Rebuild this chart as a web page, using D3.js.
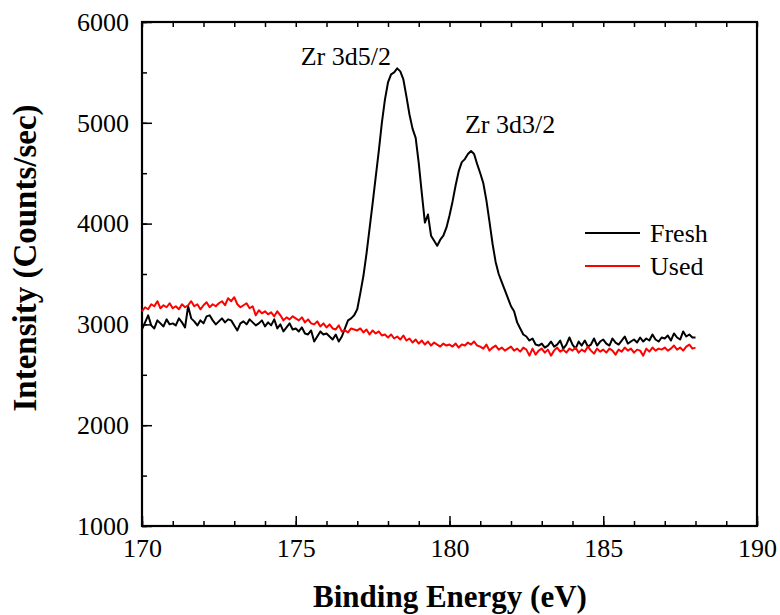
<!DOCTYPE html>
<html>
<head>
<meta charset="utf-8">
<script src="https://cdn.jsdelivr.net/npm/d3@7"></script>
<style>
  body { margin: 0; background: white; }
</style>
</head>
<body>
<div id="chart"></div>
<script>
// binding energy grid, 170.0 .. 188.0 in 0.1 eV steps
var energyStart = 170.0
var energyStep = 0.1

var fresh = [
  2950, 3020, 3090, 2990, 2960, 3040, 3010, 2980, 3050, 3000,
  3010, 2990, 3060, 3020, 2970, 3180, 3060, 3030, 2990, 3040,
  3010, 3080, 3090, 3040, 3000, 3030, 3060, 3020, 3050, 3040,
  2990, 2940, 3010, 3030, 3000, 3050, 3020, 2990, 3010, 3040,
  2980, 3020, 2990, 3050, 2960, 3000, 2930, 2970, 3010, 2950,
  2960, 2930, 2970, 2910, 2900, 2940, 2830, 2880, 2930, 2900,
  2910, 2880, 2850, 2900, 2830, 2880, 2960, 3040, 3060, 3090,
  3150, 3310, 3480, 3700, 3950, 4200, 4460, 4720, 5000, 5230,
  5400, 5480, 5500, 5540, 5510, 5430, 5260, 5080, 4940, 4850,
  4600, 4300, 4010, 4090, 3880, 3830, 3780, 3840, 3880, 3960,
  4080, 4220, 4380, 4520, 4610, 4640, 4690, 4720, 4690, 4590,
  4500, 4400, 4230, 4020, 3800, 3620, 3500, 3420, 3340, 3260,
  3180, 3130, 3020, 2960, 2900, 2880, 2840, 2860, 2800, 2790,
  2810, 2770, 2790, 2830, 2780, 2800, 2840, 2760, 2800, 2870,
  2800, 2760, 2830, 2790, 2840, 2780, 2800, 2860, 2790, 2830,
  2850, 2810, 2790, 2860, 2820, 2800, 2840, 2880, 2810, 2830,
  2850, 2820, 2870, 2830, 2860, 2840, 2900, 2850, 2830, 2870,
  2860, 2890, 2840, 2910, 2870, 2850, 2930, 2880, 2900, 2870,
  2870
]

var used = [
  3130, 3170, 3150, 3200, 3180, 3230, 3160, 3190, 3170, 3210,
  3160, 3180, 3150, 3200, 3170, 3190, 3230, 3180, 3200, 3150,
  3190, 3220, 3170, 3200, 3180, 3210, 3230, 3190, 3260, 3230,
  3270, 3200, 3170, 3190, 3210, 3160, 3180, 3090, 3140, 3110,
  3130, 3100, 3120, 3080, 3130, 3090, 3040, 3070, 3050, 3080,
  3060, 3040, 3070, 3020, 3050, 3010, 3000, 3030, 2980, 3010,
  2970, 3000, 2960, 2950, 2990, 2930, 2940, 2920, 2960, 2950,
  2940, 2960, 2920, 2950, 2900, 2940, 2910, 2930, 2890, 2900,
  2870, 2900, 2860, 2880, 2850, 2890, 2840, 2860, 2820, 2850,
  2810, 2840, 2800, 2830, 2790, 2820, 2800, 2780, 2810, 2790,
  2800, 2780, 2810, 2770, 2800, 2790, 2820, 2800, 2830, 2790,
  2780, 2760, 2800, 2740, 2770, 2790, 2750, 2770, 2740, 2760,
  2780, 2740, 2760, 2730, 2770, 2750, 2690, 2760, 2700, 2740,
  2760, 2720, 2750, 2690, 2740, 2770, 2730, 2750, 2720, 2760,
  2740, 2770, 2720, 2750, 2730, 2780, 2740, 2710, 2760, 2730,
  2750, 2720, 2760, 2740, 2700, 2750, 2730, 2770, 2740, 2760,
  2720, 2750, 2740, 2690, 2760, 2730, 2770, 2740, 2760, 2750,
  2770, 2740, 2760, 2790, 2750, 2770, 2740, 2780, 2800, 2760,
  2770
]

var xTicks = [170, 175, 180, 185, 190]
var yTicks = [1000, 2000, 3000, 4000, 5000, 6000]
var seriesNames = ["Fresh", "Used"]
var seriesColors = ["#000000", "#ff0000"]
var peakLabels = [
  { text: "Zr 3d5/2", e: 176.63, v: 5570 },
  { text: "Zr 3d3/2", e: 181.97, v: 4900 }
]

var FONT = "Liberation Serif"

var W = 780, H = 615
var margin = { left: 142, top: 22, right: 23, bottom: 89 }
var w = W - margin.left - margin.right
var h = H - margin.top - margin.bottom

var svg = d3.select("#chart").append("svg")
    .attr("width", W)
    .attr("height", H)
    .style("background-color", "white")

var g = svg.append("g").attr("transform", "translate(" + margin.left + "," + margin.top + ")")

var x = d3.scaleLinear().domain([170, 190]).range([0, w])
var y = d3.scaleLinear().domain([1000, 6000]).range([h, 0])

// minor ticks first, then major with labels
var xMinor = d3.range(170, 191, 1)
var yMinor = d3.range(1000, 6001, 500)

g.append("g").attr("transform", "translate(0," + h + ")")
    .call(d3.axisBottom(x).tickValues(xMinor).tickSize(-5).tickFormat(""))
g.append("g")
    .call(d3.axisTop(x).tickValues(xMinor).tickSize(-5).tickFormat(""))
g.append("g")
    .call(d3.axisLeft(y).tickValues(yMinor).tickSize(-5).tickFormat(""))

var xAxis = g.append("g").attr("transform", "translate(0," + h + ")")
    .call(d3.axisBottom(x).tickValues(xTicks).tickSize(-10).tickPadding(13).tickFormat(d3.format("d")))
var yAxis = g.append("g")
    .call(d3.axisLeft(y).tickValues(yTicks).tickSize(-10).tickPadding(13).tickFormat(d3.format("d")))

g.selectAll(".domain").remove()
g.selectAll(".tick line").attr("stroke", "#000").attr("stroke-width", 1.5)
xAxis.selectAll("text").attr("font-family", FONT).attr("font-size", 26).attr("fill", "#000")
yAxis.selectAll("text").attr("font-family", FONT).attr("font-size", 26).attr("fill", "#000")

// frame
g.append("rect")
    .attr("width", w).attr("height", h)
    .attr("fill", "none").attr("stroke", "#000").attr("stroke-width", 2.2)

var line = d3.line()
    .x(function(d, i) { return x(energyStart + i * energyStep) })
    .y(function(d) { return y(d) })

;[fresh, used].forEach(function(s, k) {
    g.append("path")
        .datum(s)
        .attr("fill", "none")
        .attr("stroke", seriesColors[k])
        .attr("stroke-width", 2)
        .attr("stroke-linejoin", "round")
        .attr("d", line)
})

peakLabels.forEach(function(p) {
    g.append("text")
        .attr("x", x(p.e)).attr("y", y(p.v))
        .attr("text-anchor", "middle")
        .attr("font-family", FONT)
        .attr("font-size", 26)
        .text(p.text)
})

// legend
var legend = g.append("g").attr("transform", "translate(" + (585 - margin.left) + "," + (233 - margin.top) + ")")
seriesNames.forEach(function(n, i) {
    legend.append("line")
        .attr("x1", 0).attr("x2", 55)
        .attr("y1", i * 33).attr("y2", i * 33)
        .attr("stroke", seriesColors[i]).attr("stroke-width", 2)
    legend.append("text")
        .attr("x", 65).attr("y", i * 33 + 9)
        .attr("font-family", FONT)
        .attr("font-size", 26)
        .text(n)
})

// axis titles
svg.append("text")
    .attr("x", 450).attr("y", 607)
    .attr("text-anchor", "middle")
    .attr("font-family", FONT)
    .attr("font-size", 31).attr("font-weight", "bold")
    .text("Binding Energy (eV)")

svg.append("text")
    .attr("transform", "translate(36,258) rotate(-90)")
    .attr("text-anchor", "middle")
    .attr("font-family", FONT)
    .attr("font-size", 33).attr("font-weight", "bold")
    .text("Intensity (Counts/sec)")
</script>
</body>
</html>
